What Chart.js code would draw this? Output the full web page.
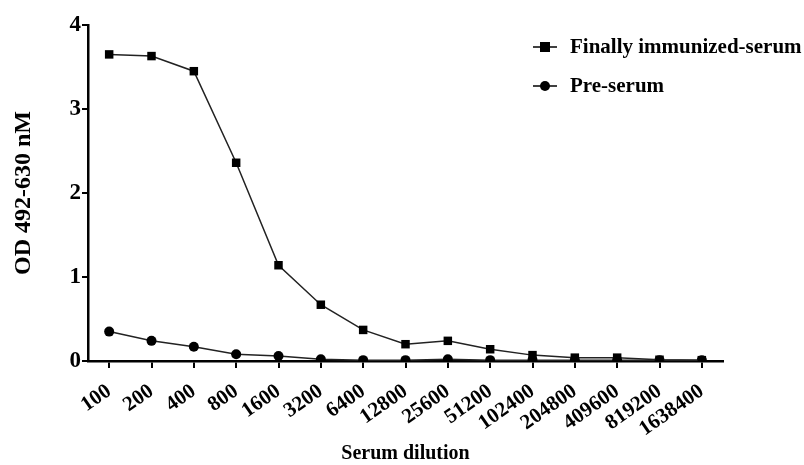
<!DOCTYPE html>
<html>
<head>
<meta charset="utf-8">
<script src="https://cdn.jsdelivr.net/npm/chart.js@4.4.1/dist/chart.umd.min.js"></script>
<style>
  html, body { margin: 0; padding: 0; background: #fff; }
  #wrap { width: 804px; height: 465px; }
</style>
</head>
<body>
<div id="wrap"><canvas id="c" width="804" height="465"></canvas></div>
<script>
// Serum dilution series (x categories)
const dilutions = ['100', '200', '400', '800', '1600', '3200', '6400', '12800', '25600',
  '51200', '102400', '204800', '409600', '819200', '1638400'];

// OD 492-630 readings
const immunizedSerum = [3.65, 3.63, 3.45, 2.36, 1.14, 0.67, 0.37, 0.20, 0.24, 0.14, 0.07, 0.04, 0.04, 0.015, 0.01];
const preSerum = [0.35, 0.24, 0.17, 0.08, 0.06, 0.02, 0.01, 0.01, 0.02, 0.01, 0.01, 0.01, 0.01, 0.01, 0.01];

const yTicks = [0, 1, 2, 3, 4];

const FONT = '"Liberation Serif", "Times New Roman", serif';

// Legend drawn inside the plot, top right
const insideLegend = {
  id: 'insideLegend',
  afterDraw(chart) {
    const ctx = chart.ctx;
    const rows = [47, 86];
    chart.data.datasets.forEach((ds, i) => {
      const y = rows[i];
      ctx.save();
      ctx.strokeStyle = '#000';
      ctx.lineWidth = 1.5;
      ctx.beginPath();
      ctx.moveTo(533, y);
      ctx.lineTo(557, y);
      ctx.stroke();
      ctx.fillStyle = '#000';
      if (ds.pointStyle === 'rect') {
        ctx.fillRect(540, y - 5, 10, 10);
      } else {
        ctx.beginPath();
        ctx.arc(545, y, 5, 0, Math.PI * 2);
        ctx.fill();
      }
      ctx.font = 'bold 21px ' + FONT;
      ctx.textBaseline = 'middle';
      ctx.textAlign = 'left';
      ctx.fillText(ds.label, 570, y + 1);
      ctx.restore();
    });
  }
};

new Chart(document.getElementById('c'), {
  type: 'line',
  data: {
    labels: dilutions,
    datasets: [
      {
        label: 'Finally immunized-serum',
        data: immunizedSerum,
        borderColor: '#222',
        borderWidth: 1.5,
        backgroundColor: '#000',
        pointStyle: 'rect',
        pointRadius: 6,
        pointBorderWidth: 0,
        pointBackgroundColor: '#000',
        tension: 0
      },
      {
        label: 'Pre-serum',
        data: preSerum,
        borderColor: '#222',
        borderWidth: 1.5,
        backgroundColor: '#000',
        pointStyle: 'circle',
        pointRadius: 5,
        pointBorderWidth: 0,
        pointBackgroundColor: '#000',
        tension: 0
      }
    ]
  },
  options: {
    responsive: false,
    animation: false,
    devicePixelRatio: 1,
    layout: { padding: { top: 25, right: 81, left: 0, bottom: 0 } },
    plugins: {
      legend: { display: false },
      tooltip: { enabled: false }
    },
    scales: {
      x: {
        type: 'category',
        offset: true,
        grid: {
          display: true,
          drawOnChartArea: false,
          drawTicks: true,
          tickLength: 7,
          color: '#000',
          lineWidth: 2,
          offset: false
        },
        border: { display: true, color: '#000', width: 2.5 },
        ticks: {
          color: '#000',
          font: { family: FONT, size: 21, weight: 'bold' },
          minRotation: 35,
          maxRotation: 35,
          autoSkip: false,
          padding: 11
        },
        title: {
          display: true,
          text: 'Serum dilution',
          color: '#000',
          font: { family: FONT, size: 20, weight: 'bold', lineHeight: 1 },
          padding: { top: 0, bottom: 1 }
        },
        afterFit(scale) { scale.height = 104; }
      },
      y: {
        min: 0,
        max: 4,
        afterBuildTicks(scale) { scale.ticks = yTicks.map(v => ({ value: v })); },
        grid: {
          display: true,
          drawOnChartArea: false,
          drawTicks: true,
          tickLength: 6,
          color: '#000',
          lineWidth: 2
        },
        border: { display: true, color: '#000', width: 2.5 },
        ticks: {
          color: '#000',
          font: { family: FONT, size: 23, weight: 'bold' },
          padding: 1
        },
        title: {
          display: true,
          text: 'OD 492-630 nM',
          color: '#000',
          font: { family: FONT, size: 24, weight: 'bold' },
          padding: { top: 9, bottom: 10 }
        },
        afterFit(scale) { scale.width = 88; }
      }
    }
  },
  plugins: [insideLegend]
});
</script>
</body>
</html>
